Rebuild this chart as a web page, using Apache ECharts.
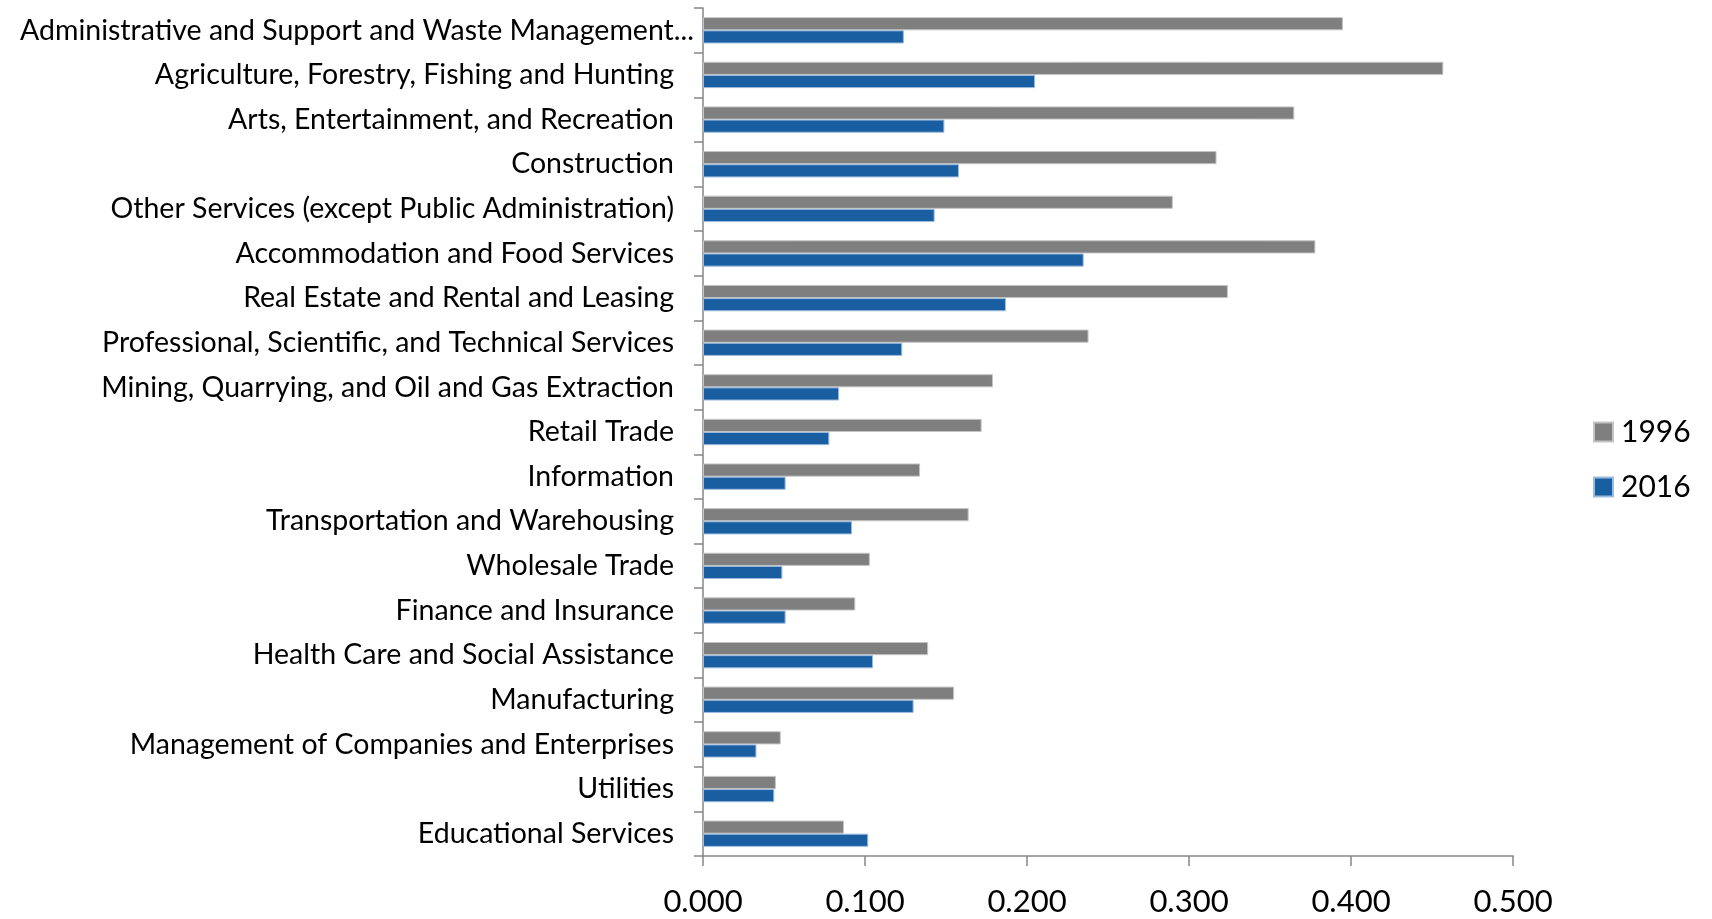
<!DOCTYPE html>
<html>
<head>
<meta charset="utf-8">
<title>Industry comparison 1996 vs 2016</title>
<script src="https://cdn.jsdelivr.net/npm/echarts@6/dist/echarts.min.js"></script>
<style>
  html, body { margin: 0; padding: 0; background: #ffffff; }
  #chart { width: 1712px; height: 919px; }
</style>
</head>
<body>
<div id="chart"></div>
<script>
// Industries, listed top to bottom
const industries = [
  'Administrative and Support and Waste Management...',
  'Agriculture, Forestry, Fishing and Hunting',
  'Arts, Entertainment, and Recreation',
  'Construction',
  'Other Services (except Public Administration)',
  'Accommodation and Food Services',
  'Real Estate and Rental and Leasing',
  'Professional, Scientific, and Technical Services',
  'Mining, Quarrying, and Oil and Gas Extraction',
  'Retail Trade',
  'Information',
  'Transportation and Warehousing',
  'Wholesale Trade',
  'Finance and Insurance',
  'Health Care and Social Assistance',
  'Manufacturing',
  'Management of Companies and Enterprises',
  'Utilities',
  'Educational Services'
];

const values1996 = [0.395, 0.457, 0.365, 0.317, 0.290, 0.378, 0.324, 0.238, 0.179,
                    0.172, 0.134, 0.164, 0.103, 0.094, 0.139, 0.155, 0.048, 0.045, 0.087];
const values2016 = [0.124, 0.205, 0.149, 0.158, 0.143, 0.235, 0.187, 0.123, 0.084,
                    0.078, 0.051, 0.092, 0.049, 0.051, 0.105, 0.130, 0.033, 0.044, 0.102];

const seriesNames = ['1996', '2016'];
const xTicks = { min: 0, max: 0.5, interval: 0.1 };

const FONT = 'Lato';
const AXIS_COLOR = '#868686';

const chart = echarts.init(document.getElementById('chart'), null, { renderer: 'canvas' });

chart.setOption({
  animation: false,
  backgroundColor: '#ffffff',
  textStyle: { fontFamily: FONT, color: '#000000' },
  grid: { left: 703, right: 199, top: 8, bottom: 63, containLabel: false },
  legend: {
    orient: 'vertical',
    left: 1588,
    top: 412,
    itemWidth: 19,
    itemHeight: 19,
    itemGap: 25,
    icon: 'rect',
    data: seriesNames,
    textStyle: { fontFamily: FONT, fontSize: 30, color: '#000000', padding: [0, 0, 0, 3] }
  },
  xAxis: {
    type: 'value',
    min: xTicks.min,
    max: xTicks.max,
    interval: xTicks.interval,
    axisLine: { show: true, lineStyle: { color: AXIS_COLOR, width: 1.5 } },
    axisTick: { show: true, length: 10, lineStyle: { color: AXIS_COLOR, width: 1.5 } },
    splitLine: { show: false },
    axisLabel: {
      fontFamily: FONT,
      fontSize: 31,
      color: '#000000',
      margin: 30,
      formatter: v => v.toFixed(3)
    }
  },
  yAxis: {
    type: 'category',
    inverse: true,
    data: industries,
    axisLine: { show: true, lineStyle: { color: AXIS_COLOR, width: 1.5 } },
    axisTick: { show: true, length: 9, lineStyle: { color: AXIS_COLOR, width: 1.5 } },
    axisLabel: {
      fontFamily: FONT,
      fontSize: 28.5,
      color: '#000000',
      margin: 29,
      // the truncated first label runs a little closer to the axis
      formatter: (v, i) => (i === 0 ? '{long|' + v + '}' : v),
      rich: {
        long: { fontFamily: FONT, fontSize: 28.5, color: '#000000', padding: [0, -20, 0, 0] }
      }
    }
  },
  series: [
    {
      name: seriesNames[0],
      type: 'bar',
      data: values1996,
      barGap: '0%',
      barCategoryGap: '41%',
      itemStyle: { color: '#7f7f7f', borderColor: '#c4c4c4', borderWidth: 1 }
    },
    {
      name: seriesNames[1],
      type: 'bar',
      data: values2016,
      barGap: '0%',
      barCategoryGap: '41%',
      itemStyle: { color: '#1a5ea2', borderColor: '#9dbbdc', borderWidth: 1 }
    }
  ]
});
</script>
</body>
</html>
